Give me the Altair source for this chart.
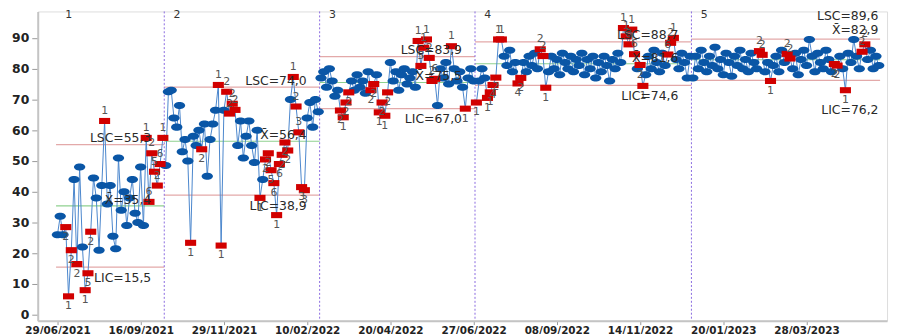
import json
import altair as alt
import pandas as pd

# ---------------- data ----------------
date_labels = ["29/06/2021", "16/09/2021", "29/11/2021", "10/02/2022", "20/04/2022",
               "27/06/2022", "08/09/2022", "14/11/2022", "20/01/2023", "28/03/2023"]
tick_step = 30
y_ticks = [0, 10, 20, 30, 40, 50, 60, 70, 80, 90]

stage1 = [26, 32, 26, 28.5, 6, 21, 44, 16.5, 48, 22, 8, 13.5, 27, 44.5, 38, 21, 42, 63, 36, 42,
          25.5, 21.5, 51, 34, 40, 29, 38, 44, 33, 30, 48, 29, 57.5, 36.7, 52.5, 46.5, 42, 49, 57.5]
stage2 = [48.5, 72.5, 73, 64, 61, 68, 53, 57, 50, 23.4, 58, 55, 60, 53.8, 62, 45, 57, 62, 66.5, 74.7,
          22.5, 66.5, 72.5, 65.4, 68.6, 66.6, 55, 63, 51, 58, 63, 55, 49.5, 60, 38, 44, 50.5, 52.5, 47, 42.8,
          32.4, 49, 52, 56, 53.4, 70, 77.3, 67.7, 59.3, 41.5, 40.5, 64, 69, 61, 70, 66]
stage3 = [77, 79, 74, 80, 76, 71, 73, 66.4, 64.2, 69, 72.3, 76, 73, 78, 74, 76, 72, 79, 73, 75,
          78, 65.8, 69, 64.7, 72.3, 82, 76, 79, 73, 78, 80, 75, 77, 79, 74, 89, 80.9, 86.8, 89.5, 83.5,
          76, 76.7, 68, 80, 77, 82, 75, 87.3, 80, 76, 79, 74, 67, 77, 80, 76]
stage4 = [69, 76, 80, 77, 70.5, 72.3, 74.7, 77.1, 89.5, 89.5, 84, 81, 86, 79, 82, 75.2, 77, 82, 79, 84,
          81, 85, 80, 86.3, 84.1, 73.8, 79, 84, 80, 83, 78, 85, 82, 80, 84, 79, 83, 81, 85, 78,
          83, 80, 84, 77, 82, 79, 84, 81, 76, 83, 80, 85, 82, 93.2, 90.5, 87.9, 92.7, 84.7, 80, 81.2,
          74.4, 78, 84, 80, 86, 82, 79, 85, 81, 84.6, 88.4, 90, 83, 80, 85, 82, 77, 84]
stage5 = [77, 84, 80, 86, 82, 79, 84, 81, 87, 80, 83, 78, 85, 82, 77.5, 84, 81, 86, 80, 83,
          79, 85, 82, 80, 85.7, 84.5, 79, 82, 76, 81, 84, 79, 86, 82, 84.8, 83.3, 80, 85, 78, 83,
          86, 81, 89.5, 84, 79, 85, 82, 80, 86, 83, 79, 81.5, 81, 84, 80, 73, 85, 82, 89.5, 84,
          80, 85.5, 87.9, 83, 86, 80, 84, 81]

# out-of-control observations (global observation number) and the failed test
flag_obs = [3, 4, 5, 7, 10, 11, 12, 17, 32, 33, 34, 35, 36, 37, 38,
            48, 52, 58, 59, 61, 62, 63, 64, 73, 75, 76, 77, 78, 79, 80, 81, 82, 83, 85, 86, 87, 88, 89,
            102, 103, 104, 105, 113, 114, 116, 117, 118, 119, 130, 131, 132, 133, 134, 135, 136, 142, 147,
            151, 155, 156, 157, 158, 159, 160, 166, 167, 174, 175, 176, 204, 205, 206, 207, 208, 210, 211,
            220, 221, 222,
            253, 254, 257, 263, 264, 280, 281, 284, 290, 291]
flag_test = ["2", "1", "2", "2", "1", "5", "2", "1", "1", "6", "2", "5", "2", "6", "1",
             "1", "2", "1", "1", "2", "2", "2", "2", "1", "2", "2", "5", "6", "1", "6", "2", "2", "2", "1", "2", "3", "3", "3",
             "2", "1", "2", "2", "2", "2", "1", "2", "1", "2", "1", "5", "1", "1", "2", "2", "6", "1", "1",
             "1", "1", "1", "4", "2", "1", "1", "4", "2", "2", "2", "1", "1", "1", "8", "1", "6", "2", "1",
             "6", "2", "1",
             "2", "2", "1", "2", "2", "2", "2", "1", "2", "2"]

lsc = [55.3, 74.0, 83.9, 88.7, 89.6]
center = [35.4, 56.4, 75.5, 81.6, 82.9]
lic = [15.5, 38.9, 67.0, 74.6, 76.2]

# ---------------- tables ----------------
stages = [stage1, stage2, stage3, stage4, stage5]
rows = []
obs = 0
starts, ends = [], []
for s, vals in enumerate(stages):
    starts.append(obs)
    for v in vals:
        rows.append({"obs": obs, "value": v, "stage": s + 1})
        obs += 1
    ends.append(obs - 1)
df = pd.DataFrame(rows)
flags = dict(zip(flag_obs, flag_test))
df["test"] = df["obs"].map(flags).fillna("")
df["flag"] = df["test"] != ""
df["above"] = df.apply(lambda r: r["value"] >= center[int(r["stage"]) - 1], axis=1)

lim = pd.DataFrame({
    "stage": [1, 2, 3, 4, 5],
    "x0": [a - 0.5 for a in starts],
    "x1": [b + 0.5 for b in ends],
    "lsc": lsc, "center": center, "lic": lic,
})
bounds = pd.DataFrame({"x": [b + 0.5 for b in ends[:-1]]})


def fmt(v):
    return f"{v:.1f}".replace(".", ",")


lab_rows = []
for i in range(5):
    last = i == 4
    xr = ends[i] + 0.5 - (0.6 if last else 4.7)
    off = (7.4, 9.7, -9.7) if last else (2.1, 2.0, -3.5)
    lab_rows.append({"x": xr, "y": lsc[i] + off[0], "t": "LSC=" + fmt(lsc[i])})
    lab_rows.append({"x": xr, "y": center[i] + off[1], "t": "X\u0304=" + fmt(center[i])})
    lab_rows.append({"x": xr, "y": lic[i] + off[2], "t": "LIC=" + fmt(lic[i])})
labs = pd.DataFrame(lab_rows)

stage_lab = pd.DataFrame({"x": [a + 4.1 for a in starts], "t": [str(i + 1) for i in range(5)]})

# ---------------- scales & axes ----------------
label_expr = json.dumps(date_labels) + f"[round(datum.value / {tick_step})]"
xs = alt.Scale(domain=[-7.1, 299], nice=False, zero=False)
ys = alt.Scale(domain=[-1.9, 98.6], nice=False, zero=False)
xax = alt.Axis(values=[i * tick_step for i in range(len(date_labels))], labelExpr=label_expr,
               grid=False, tickSize=4, labelPadding=1, labelFontSize=10.5, labelFontWeight="bold",
               labelColor="#222222", domainColor="#c4c4c4", domainWidth=2, tickColor="#999999",
               labelFont="DejaVu Sans", labelOverlap=False, title=None)
yax = alt.Axis(values=y_ticks, grid=False, tickSize=6, labelPadding=3, labelFontSize=12.5,
               labelFontWeight="bold", labelColor="#222222", domainColor="#c4c4c4", domainWidth=2,
               tickColor="#999999", labelFont="DejaVu Sans", labelOverlap=False, title=None)


def ex(field):
    return alt.X(field, scale=xs, axis=xax)


def ey(field):
    return alt.Y(field, scale=ys, axis=yax)


ellipse = "M -1 0 A 1 0.62 0 1 1 1 0 A 1 0.62 0 1 1 -1 0 Z"
rect = "M -1 -0.55 L 1 -0.55 L 1 0.55 L -1 0.55 Z"

base = alt.Chart(df)

lsc_rule = alt.Chart(lim).mark_rule(color="#e3a9a9", strokeWidth=1.2).encode(
    x=ex("x0:Q"), x2="x1:Q", y=ey("lsc:Q"))
lic_rule = alt.Chart(lim).mark_rule(color="#e3a9a9", strokeWidth=1.2).encode(
    x=ex("x0:Q"), x2="x1:Q", y=ey("lic:Q"))
cl_rule = alt.Chart(lim).mark_rule(color="#8fd18f", strokeWidth=1.2).encode(
    x=ex("x0:Q"), x2="x1:Q", y=ey("center:Q"))
bound_rule = alt.Chart(bounds).mark_rule(color="#8a6ae0", strokeWidth=1, strokeDash=[2, 2]).encode(
    x=ex("x:Q"))

line = base.mark_line(color="#4a86cc", strokeWidth=1).encode(x=ex("obs:Q"), y=ey("value:Q"), detail="stage:N")
pts = base.transform_filter("!datum.flag").mark_point(
    shape=ellipse, filled=True, size=130, color="#0a56a6", opacity=1, strokeWidth=0).encode(
    x=ex("obs:Q"), y=ey("value:Q"))
reds = base.transform_filter("datum.flag").mark_point(
    shape=rect, filled=True, size=125, color="#d10000", opacity=1, strokeWidth=0).encode(
    x=ex("obs:Q"), y=ey("value:Q"))
t_up = base.transform_filter("datum.flag && datum.above").mark_text(
    dy=-10, fontSize=11, color="#555555", font="DejaVu Sans").encode(
    x=ex("obs:Q"), y=ey("value:Q"), text="test:N")
t_dn = base.transform_filter("datum.flag && !datum.above").mark_text(
    dy=10, fontSize=11, color="#555555", font="DejaVu Sans").encode(
    x=ex("obs:Q"), y=ey("value:Q"), text="test:N")

lim_text = alt.Chart(labs).mark_text(align="right", baseline="middle", fontSize=12.5,
                                     color="#2a2a2a", font="DejaVu Sans").encode(
    x=ex("x:Q"), y=ey("y:Q"), text="t:N")
stage_text = alt.Chart(stage_lab).mark_text(align="center", baseline="top", fontSize=11,
                                            color="#333333", font="DejaVu Sans").encode(
    x=ex("x:Q"), y=alt.value(-2.5), text="t:N")

chart = alt.layer(
    lsc_rule, lic_rule, cl_rule, bound_rule, line, pts, reds, t_up, t_dn, lim_text, stage_text
).properties(
    width=857, height=312,
    autosize=alt.AutoSizeParams(type="none"),
    padding={"left": 30, "top": 2, "right": 4, "bottom": 12},
).configure_view(stroke="#d6d6d6", strokeWidth=1).configure(background="white")

chart.save("out.html", embed_options={"renderer": "svg", "actions": False})
